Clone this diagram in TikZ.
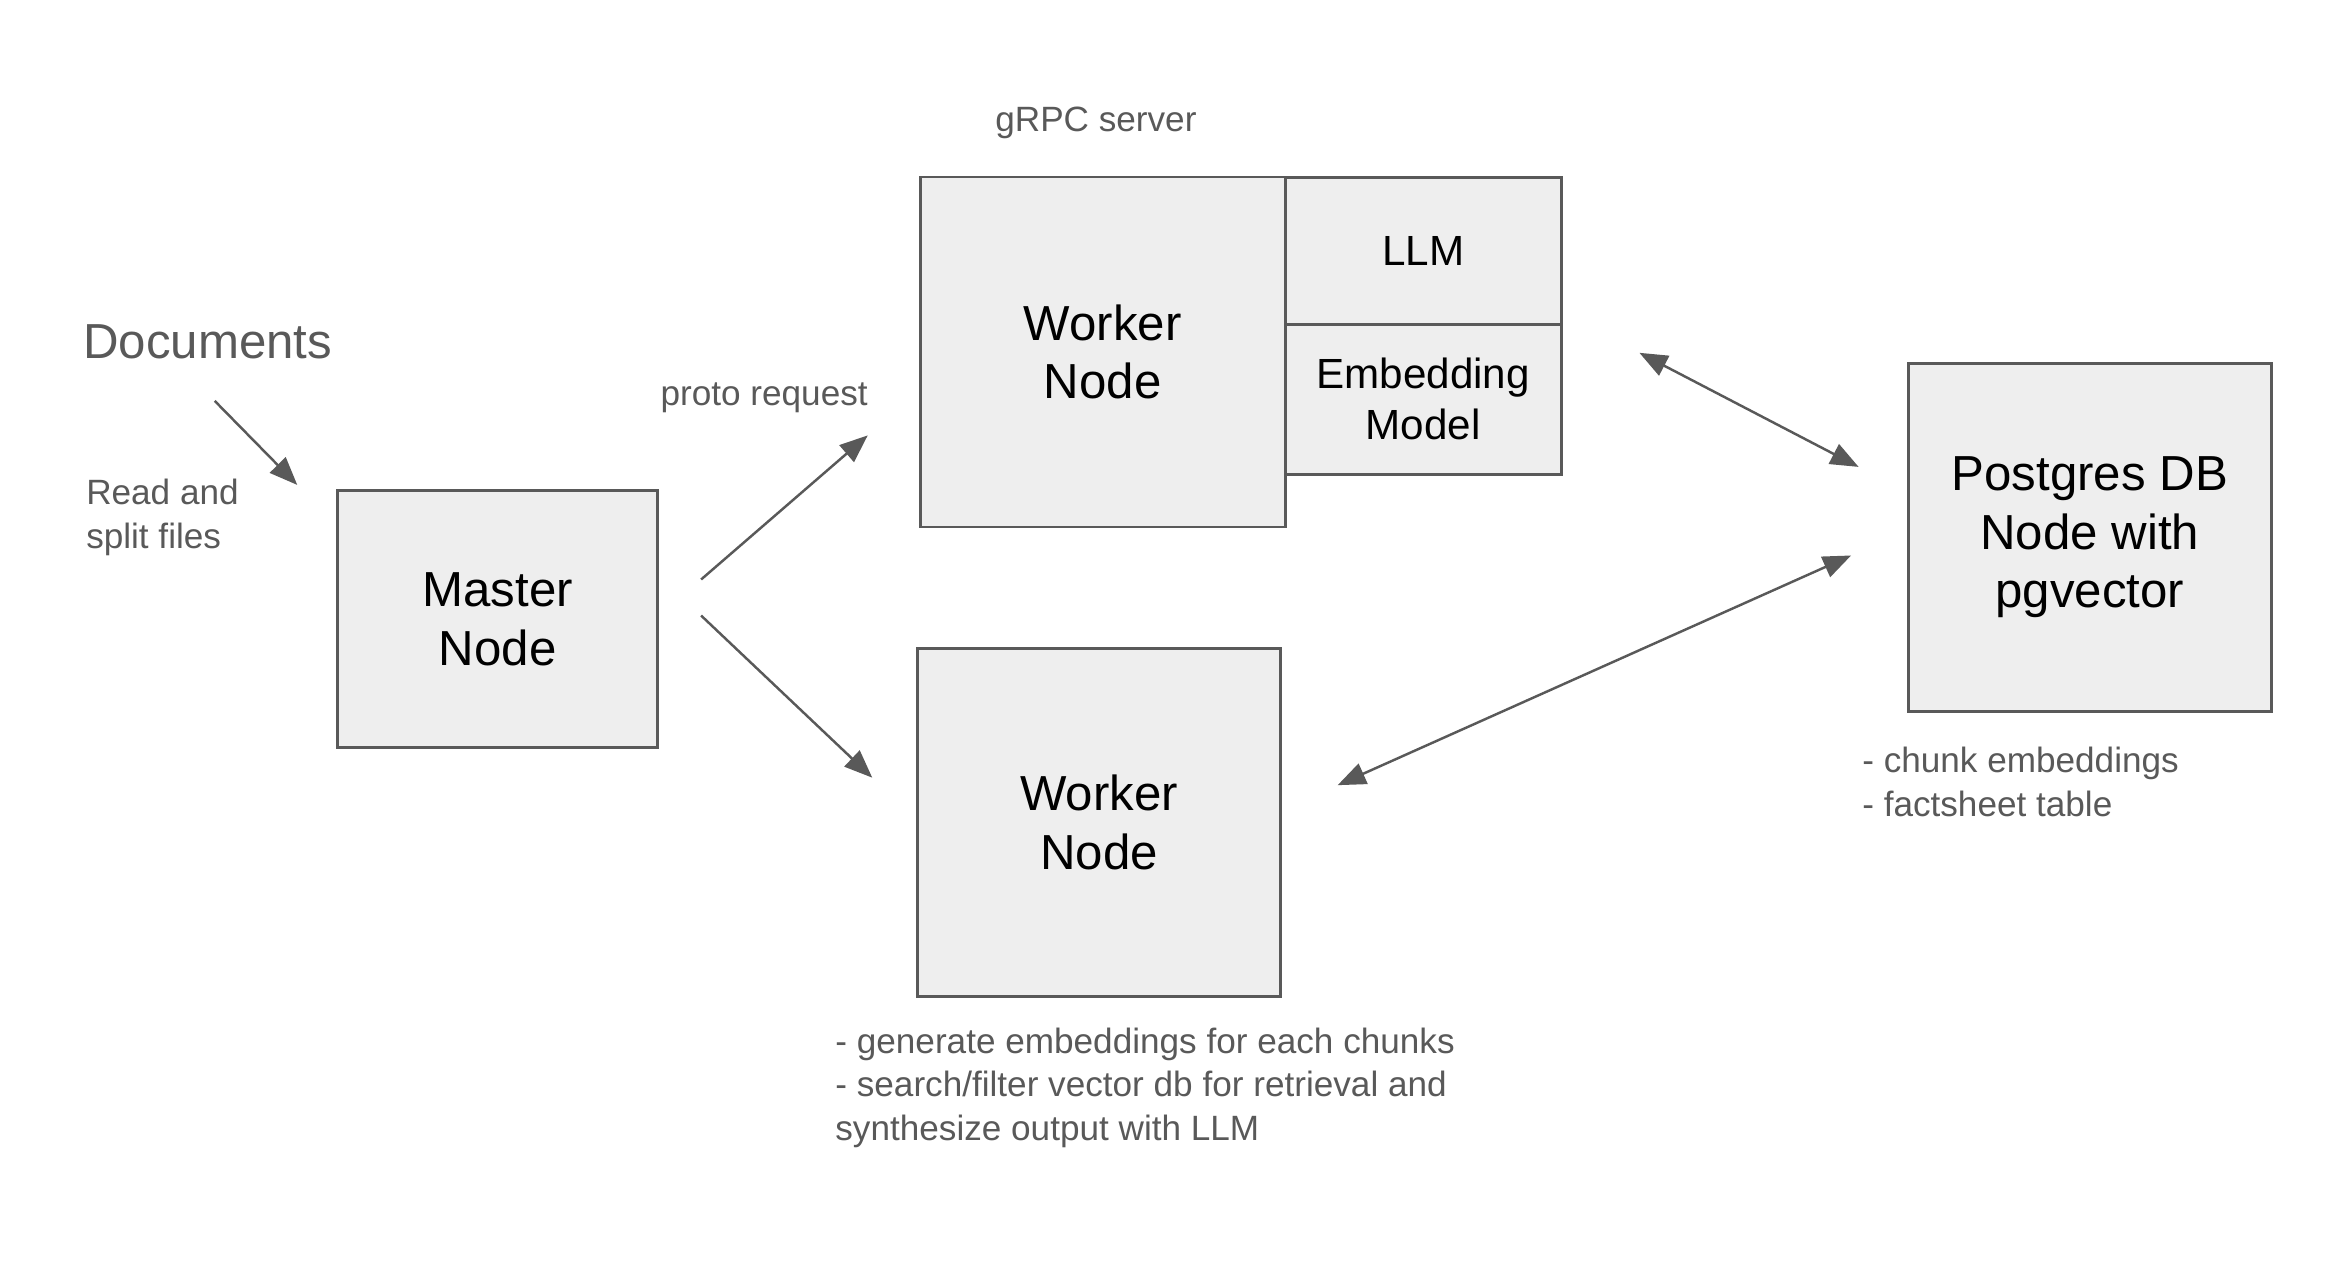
\documentclass[tikz,border=0pt]{standalone}
\usepackage{fontspec}
\setmainfont{Liberation Sans}
\usetikzlibrary{arrows.meta}

\definecolor{boxfill}{HTML}{EEEEEE}
\definecolor{darkgray}{HTML}{595959}

\tikzset{
    nodebox/.style={draw=darkgray, line width=0.8pt, fill=boxfill, align=center, inner sep=0pt,
        font=\fontsize{14}{16.7}\selectfont},
    subbox/.style={nodebox, font=\fontsize{12}{14.5}\selectfont},
    note/.style={text=darkgray, align=left, inner sep=0pt, font=\fontsize{10}{12.4}\selectfont},
    flow/.style={draw=darkgray, line width=0.7pt, -{Triangle[length=2.8mm,width=2.2mm]}},
    dflow/.style={draw=darkgray, line width=0.7pt, {Triangle[length=2.8mm,width=2.2mm]}-{Triangle[length=2.8mm,width=2.2mm]}},
}

\begin{document}
\begin{tikzpicture}[x=0.015013cm, y=-0.015013cm]
        \useasboundingbox (0,0) rectangle (1552,855.3);

        % Boxes
        \node[nodebox, minimum width=3.20cm, minimum height=2.57cm] (master) at (331.5,412.5) {Master\\Node};
        \node[nodebox, minimum width=3.65cm, minimum height=3.50cm] (worker1) at (734.5,234.5) {Worker\\Node};
        \node[subbox, minimum width=2.76cm, minimum height=1.47cm] (llm) at (948,167) {LLM};
        \node[subbox, minimum width=2.76cm, minimum height=1.50cm] (embed) at (948,266) {Embedding\\Model};
        \node[nodebox, minimum width=3.63cm, minimum height=3.48cm] (worker2) at (732,548) {Worker\\Node};
        \node[nodebox, minimum width=3.63cm, minimum height=3.48cm] (postgres) at (1392,358) {Postgres DB\\Node with\\pgvector};

        % Labels
        \node[note, anchor=west, font=\fontsize{14}{16.7}\selectfont] (docs) at (55,228) {Documents};
        \node[note, anchor=west] (readsplit) at (57,344.5) {Read and\\split files};
        \node[note] (proto) at (509,265) {proto request};
        \node[note] (grpc) at (730,82) {gRPC server};
        \node[note, anchor=west] (dbnote) at (1240,521) {- chunk embeddings\\- factsheet table};
        \node[note, anchor=west] (worknote) at (556,724.5) {- generate embeddings for each chunks\\- search/filter vector db for retrieval and\\synthesize output with LLM};

        % Arrow ends
        \coordinate (docsA) at (143,267);
        \coordinate (docsB) at (198,323);
        \coordinate (upA) at (467,386);
        \coordinate (upB) at (578,290);
        \coordinate (downA) at (467,410);
        \coordinate (downB) at (581,518);
        \coordinate (dbA) at (1092,235);
        \coordinate (dbB) at (1238,311);
        \coordinate (dbC) at (1233,370);
        \coordinate (dbD) at (891,523);

        % Arrows
        \draw[flow] (docsA) -- (docsB);
        \draw[flow] (upA) -- (upB);
        \draw[flow] (downA) -- (downB);
        \draw[dflow] (dbA) -- (dbB);
        \draw[dflow] (dbC) -- (dbD);
\end{tikzpicture}
\end{document}
